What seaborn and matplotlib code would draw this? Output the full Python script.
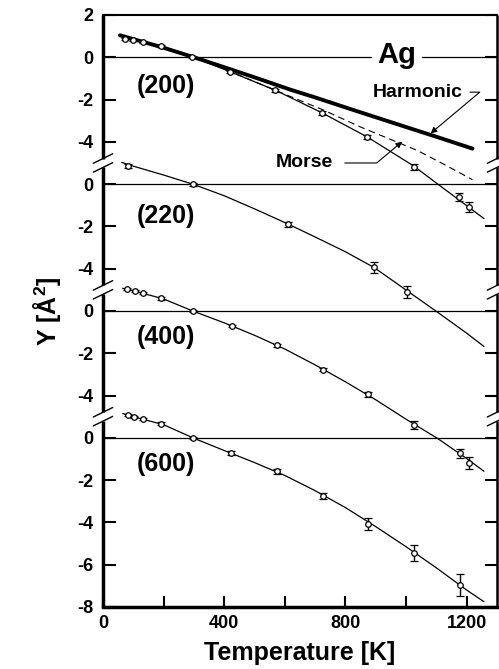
import numpy as np
import seaborn as sns
import matplotlib.pyplot as plt

# Ag Debye-Waller style plot: four reflections stacked with vertical offsets
# values

# (200)
t_200 = [73, 100, 133, 190, 293, 420, 569, 723, 872, 1026, 1175, 1208]
y_200 = [0.88, 0.80, 0.72, 0.53, 0.03, -0.69, -1.56, -2.63, -3.77, -5.19, -6.61, -7.08]
e_200 = [0.05, 0.05, 0.05, 0.05, 0.05, 0.06, 0.07, 0.08, 0.10, 0.12, 0.17, 0.24]
fit_t_200 = [56, 100, 200, 300, 420, 569, 723, 872, 1026, 1100, 1175, 1257]
fit_y_200 = [1.04, 0.82, 0.46, 0.0, -0.69, -1.56, -2.63, -3.77, -5.15, -5.95, -6.75, -7.63]
harm_t = [56, 200, 300, 400, 500, 618, 700, 838, 1000, 1100, 1219]
harm_y = [1.04, 0.45, 0.0, -0.47, -0.95, -1.53, -1.90, -2.55, -3.30, -3.76, -4.32]
morse_t = [56, 200, 300, 400, 500, 600, 728, 850, 1036, 1130, 1219]
morse_y = [1.04, 0.50, 0.0, -0.55, -1.15, -1.75, -2.50, -3.30, -4.40, -5.10, -5.79]

# (220)
t_220 = [84, 296, 611, 894, 1004]
y_220 = [0.87, 0.0, -1.89, -3.94, -5.10]
e_220 = [0.10, 0.07, 0.12, 0.25, 0.30]
fit_t_220 = [62, 100, 200, 296, 400, 500, 611, 700, 800, 894, 1004, 1103, 1200, 1257]
fit_y_220 = [1.03, 0.85, 0.43, 0.0, -0.55, -1.17, -1.89, -2.50, -3.20, -3.94, -5.05, -6.05, -7.05, -7.68]

# (400)
t_400 = [78, 106, 133, 192, 296, 425, 574, 726, 875, 1026, 1177, 1208]
y_400 = [1.03, 0.95, 0.84, 0.60, 0.0, -0.71, -1.62, -2.78, -3.95, -5.38, -6.73, -7.20]
e_400 = [0.05, 0.05, 0.05, 0.06, 0.05, 0.06, 0.07, 0.08, 0.12, 0.20, 0.20, 0.28]
fit_t_400 = [65, 100, 200, 296, 400, 500, 600, 700, 800, 900, 1000, 1103, 1200, 1257]
fit_y_400 = [1.07, 0.96, 0.57, 0.0, -0.56, -1.15, -1.80, -2.55, -3.35, -4.20, -5.12, -6.02, -6.98, -7.58]

# (600)
t_600 = [82, 103, 131, 192, 296, 423, 574, 726, 875, 1026, 1177]
y_600 = [1.08, 1.00, 0.90, 0.67, 0.0, -0.71, -1.59, -2.75, -4.08, -5.44, -6.94]
e_600 = [0.05, 0.05, 0.05, 0.08, 0.06, 0.08, 0.10, 0.12, 0.30, 0.37, 0.52]
fit_t_600 = [65, 100, 200, 300, 400, 500, 600, 700, 800, 900, 1000, 1100, 1200, 1257]
fit_y_600 = [1.15, 1.00, 0.62, -0.02, -0.60, -1.17, -1.78, -2.50, -3.30, -4.20, -5.15, -6.15, -7.20, -7.75]

labels = ['(200)', '(220)', '(400)', '(600)']
label_y = [-1.37, -1.5, -1.25, -1.24]
offsets = [0, -6, -12, -18]
ytick_vals = [[2, 0, -2, -4], [0, -2, -4], [0, -2, -4], [0, -2, -4, -6, -8]]
breaks = [-5, -11, -17]

sns.set_style("white")
plt.rcParams['font.family'] = ['Liberation Sans', 'DejaVu Sans']
plt.rcParams['font.weight'] = 'bold'
plt.rcParams['mathtext.fontset'] = 'custom'
plt.rcParams['mathtext.rm'] = 'Liberation Sans:bold'
plt.rcParams['mathtext.bf'] = 'Liberation Sans:bold'
for key in ['text.color', 'axes.labelcolor', 'xtick.color', 'ytick.color', 'axes.edgecolor']:
    plt.rcParams[key] = 'black'

fig = plt.figure(figsize=(4.99, 6.69), dpi=100)
ax = fig.add_axes([0.2064, 0.0927, 0.7896, 0.8849])
ax.set_xlim(0, 1300)
ax.set_ylim(-26, 2)

panels = [(t_200, y_200, e_200, fit_t_200, fit_y_200),
          (t_220, y_220, e_220, fit_t_220, fit_y_220),
          (t_400, y_400, e_400, fit_t_400, fit_y_400),
          (t_600, y_600, e_600, fit_t_600, fit_y_600)]

for (t, y, e, ft, fy), off, lab, ly in zip(panels, offsets, labels, label_y):
    ax.axhline(off, color='black', lw=0.9, zorder=1)
    sns.lineplot(x=ft, y=np.array(fy) + off, ax=ax, color='black', lw=0.9,
                 sort=False, estimator=None, zorder=2)
    ax.errorbar(t, np.array(y) + off, yerr=e, fmt='o', ms=4, mfc='white', mec='black',
                mew=0.9, ecolor='black', elinewidth=1.0, capsize=3, capthick=1.3, zorder=3)
    ax.text(208, ly + off, lab, fontsize=18, fontweight='bold', ha='center', va='center')

# harmonic and morse model curves for (200)
sns.lineplot(x=harm_t, y=harm_y, ax=ax, color='black', lw=2.8, sort=False,
             estimator=None, zorder=2)
sns.lineplot(x=morse_t, y=morse_y, ax=ax, color='black', lw=0.8, sort=False,
             estimator=None, zorder=2, linestyle=(0, (6, 4)))

ax.text(969, -0.27, 'Ag', fontsize=21, fontweight='bold', ha='center', va='baseline',
        bbox=dict(facecolor='white', edgecolor='none', pad=4), zorder=4)
ax.annotate('Harmonic', xy=(1081, -3.6), xytext=(1038, -1.65), fontsize=14,
            fontweight='bold', ha='center', va='center',
            arrowprops=dict(arrowstyle='-|>', color='black', lw=0.8, mutation_scale=9,
                            shrinkA=3, shrinkB=0,
                            connectionstyle='angle,angleA=0,angleB=40,rad=0'))
ax.annotate('Morse', xy=(987, -3.99), xytext=(665, -5.0), fontsize=14,
            fontweight='bold', ha='center', va='center',
            arrowprops=dict(arrowstyle='-|>', color='black', lw=0.8, mutation_scale=9,
                            shrinkA=6, shrinkB=0,
                            connectionstyle='angle,angleA=0,angleB=40,rad=0'))

# y ticks, labels reset in every panel
yt, yl = [], []
for off, vals in zip(offsets, ytick_vals):
    for v in vals:
        yt.append(v + off)
        yl.append(str(v))
ax.set_yticks(yt)
ax.set_yticklabels(yl)
ax.set_xticks([0, 400, 800, 1200])
ax.set_xticks([200, 600, 1000], minor=True)
ax.tick_params(axis='y', which='both', direction='in', left=True, right=True,
               length=9, width=1.5, labelsize=13, pad=7)
ax.tick_params(axis='x', which='both', direction='in', bottom=True, top=False,
               length=8, width=1.5, labelsize=13, pad=6)
for lab in ax.get_xticklabels() + ax.get_yticklabels():
    lab.set_fontweight('bold')

ax.set_xlabel('Temperature [K]', fontsize=18, fontweight='bold', labelpad=6)
ax.set_ylabel(r'Y [Å$^{2}$]', fontsize=18, fontweight='bold', labelpad=10)

# broken vertical spines
ax.spines['left'].set_visible(False)
ax.spines['right'].set_visible(False)
ax.spines['top'].set_linewidth(1.5)
ax.spines['bottom'].set_linewidth(2.5)
gap = 0.21
edges = [2] + [v for b in breaks for v in (b + gap, b - gap)] + [-26]
ytr = ax.get_yaxis_transform()
for xpos, lw in [(0, 2.5), (1, 1.8)]:
    for a, b in zip(edges[0::2], edges[1::2]):
        ax.plot([xpos, xpos], [a, b], color='black', lw=lw, transform=ytr,
                clip_on=False, solid_capstyle='butt', zorder=5)
for b in breaks:
    for s in (gap, -gap):
        for xc in (0, 1300):
            ax.plot([xc - 32, xc + 32], [b + s - 0.225, b + s + 0.225], color='black',
                    lw=1.0, clip_on=False, zorder=5)

fig.savefig('out.png', dpi=100)
